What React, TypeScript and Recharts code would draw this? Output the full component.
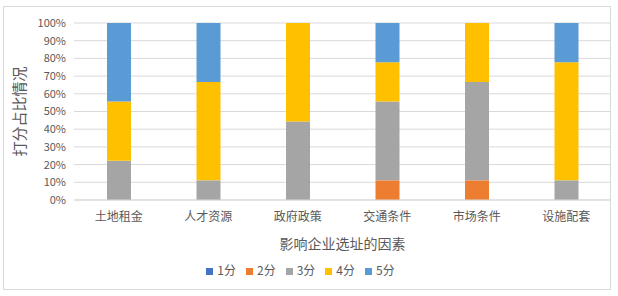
import React from 'react';
import { BarChart, Bar, XAxis, YAxis, CartesianGrid, Legend } from 'recharts';

const categories = ['土地租金', '人才资源', '政府政策', '交通条件', '市场条件', '设施配套'];
const score1 = [0, 0, 0, 0, 0, 0];
const score2 = [0, 0, 0, 11.1, 11.1, 0];
const score3 = [22.2, 11.1, 44.4, 44.5, 55.6, 11.1];
const score4 = [33.4, 55.6, 55.6, 22.2, 33.3, 66.7];
const score5 = [44.4, 33.3, 0, 22.2, 0, 22.2];
const yTicks = [0, 0.1, 0.2, 0.3, 0.4, 0.5, 0.6, 0.7, 0.8, 0.9, 1];

const series = [
    { key: 's1', name: '1分', color: '#4472C4' },
    { key: 's2', name: '2分', color: '#ED7D31' },
    { key: 's3', name: '3分', color: '#A5A5A5' },
    { key: 's4', name: '4分', color: '#FFC000' },
    { key: 's5', name: '5分', color: '#5B9BD5' },
];

const data = categories.map((name, i) => ({
    name,
    s1: score1[i],
    s2: score2[i],
    s3: score3[i],
    s4: score4[i],
    s5: score5[i],
}));

const FONT = '"Noto Sans CJK SC", "Noto Sans", sans-serif';

export default function App() {
    return (
        <div style={{ position: 'absolute', left: 0, top: 0, width: 618, height: 296, background: '#fff', fontFamily: FONT }}>
            <div style={{ position: 'absolute', left: 3, top: 6, width: 608, height: 284, border: '1px solid #d9d9d9', boxSizing: 'border-box' }} />
            <div style={{ position: 'absolute', left: 0, top: 0 }}>
                <BarChart
                    width={618}
                    height={296}
                    data={data}
                    stackOffset="expand"
                    barSize={24}
                    margin={{ top: 23, right: 7, left: 0, bottom: 10 }}
                >
                    <CartesianGrid vertical={false} stroke="#d9d9d9" />
                    <XAxis
                        dataKey="name"
                        height={66}
                        tickLine={false}
                        axisLine={{ stroke: '#d9d9d9' }}
                        tick={{ fill: '#595959', fontSize: 12, fontFamily: FONT }}
                        tickMargin={6}
                        label={{ value: '影响企业选址的因素', position: 'insideBottom', offset: 17, fill: '#595959', fontSize: 14, fontFamily: FONT }}
                    />
                    <YAxis
                        width={74}
                        ticks={yTicks}
                        domain={[0, 1]}
                        interval={0}
                        tickLine={false}
                        axisLine={false}
                        tick={{ fill: '#595959', fontSize: 11, fontFamily: FONT }}
                        tickFormatter={(v) => `${Math.round(v * 100)}%`}
                        label={{ value: '打分占比情况', angle: -90, position: 'insideLeft', offset: 20, fill: '#595959', fontSize: 15, fontFamily: FONT, textAnchor: 'middle' }}
                    />
                    <Legend
                        height={20}
                        iconType="square"
                        iconSize={7}
                        wrapperStyle={{ bottom: 15, fontSize: 12, fontFamily: FONT }}
                        formatter={(value) => <span style={{ color: '#595959' }}>{value}</span>}
                    />
                    {series.map((s) => (
                        <Bar key={s.key} dataKey={s.key} name={s.name} stackId="a" fill={s.color} isAnimationActive={false} />
                    ))}
                </BarChart>
            </div>
        </div>
    );
}
